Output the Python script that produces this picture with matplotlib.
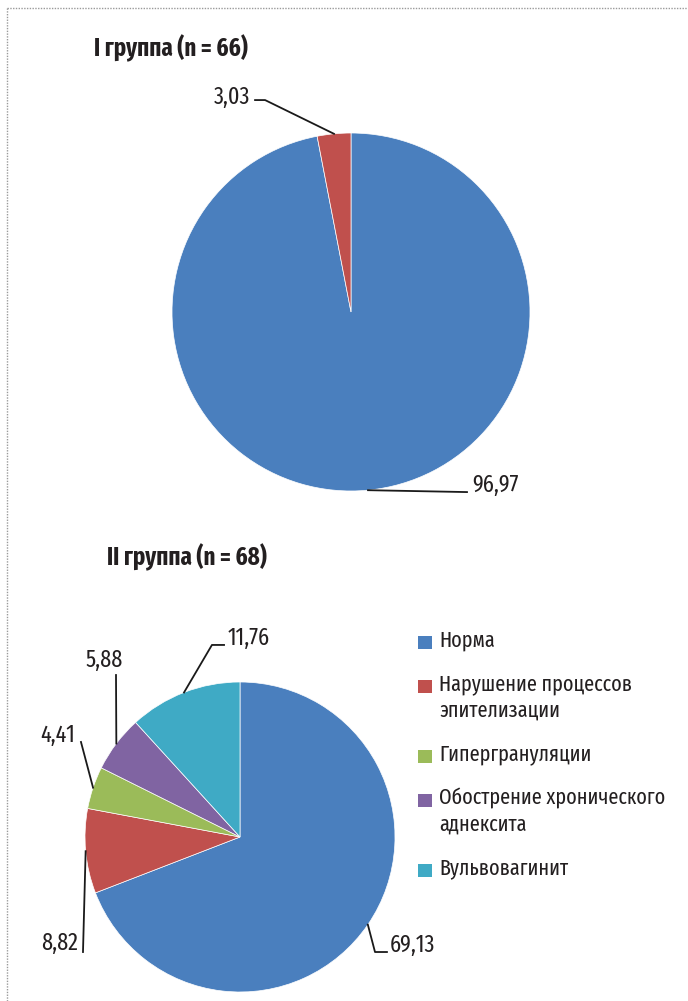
import numpy as np
import matplotlib
matplotlib.use("Agg")
import matplotlib.pyplot as plt
from matplotlib import font_manager
from matplotlib.ft2font import FT2Font
from matplotlib.lines import Line2D
from matplotlib.patches import Rectangle

# Data
categories = ["Норма", "Нарушение процессов\nэпителизации", "Гипергрануляции",
              "Обострение хронического\nаднексита", "Вульвовагинит"]
colors = ["#4A7FBE", "#C0504D", "#9BBB59", "#8064A2", "#3FAAC5"]

group1_title = "I группа (n = 66)"
group1_values = [96.97, 3.03]
group1_labels = ["96,97", "3,03"]

group2_title = "II группа (n = 68)"
group2_values = [69.13, 8.82, 4.41, 5.88, 11.76]
group2_labels = ["69,13", "8,82", "4,41", "5,88", "11,76"]


def has_cyrillic(path):
    try:
        return ord("ш") in FT2Font(path).get_charmap()
    except Exception:
        return False


W, H = 688, 1001
fig = plt.figure(figsize=(W / 100, H / 100), dpi=100)
renderer = fig.canvas.get_renderer()

# pick the sans face whose width is closest to the original condensed type
cands = {("Liberation Sans", "normal")}
for f in font_manager.fontManager.ttflist:
    narrowish = ("Narrow" in f.name or "Condensed" in f.name or
                 f.stretch not in ("normal", 500, "medium"))
    if narrowish and "Mono" not in f.name and "Serif" not in f.name and has_cyrillic(f.fname):
        cands.add((f.name, f.stretch))

target = 193.0  # px width of "Нарушение процессов" in the original
best = None
for fam, st in cands:
    t = fig.text(0, 0, "Нарушение процессов", fontsize=16, family=fam, fontstretch=st)
    w = t.get_window_extent(renderer).width
    t.remove()
    if best is None or abs(w - target) < abs(best[2] - target):
        best = (fam, st, w)
family, stretch, wbest = best
scale = min(1.08, max(0.85, target / wbest))
plt.rcParams["font.family"] = [family, "DejaVu Sans"]
plt.rcParams["font.stretch"] = stretch

# dotted frame (left and top)
fig.add_artist(Line2D([7 / W, 7 / W], [0, 1 - 8 / H], color="#9a9a9a", lw=1, ls=(0, (1, 1))))
fig.add_artist(Line2D([7 / W, 1], [1 - 8 / H, 1 - 8 / H], color="#9a9a9a", lw=1, ls=(0, (1, 1))))


def pie_axes(cx, cy, r, half=1.6):
    size = 2 * half * r
    ax = fig.add_axes([(cx - half * r) / W, (H - cy - half * r) / H, size / W, size / H])
    return ax, half


def draw_pie(ax, half, values, labels, cols, layout):
    wedges, _ = ax.pie(values, colors=cols, startangle=90, counterclock=False, radius=1,
                       wedgeprops=dict(edgecolor="white", linewidth=0.5))
    ax.set_xlim(-half, half)
    ax.set_ylim(-half, half)
    ax.axis("off")
    for w, lab, (pts, tx, ty, ha) in zip(wedges, labels, layout):
        mid = np.deg2rad((w.theta1 + w.theta2) / 2)
        xs = [np.cos(mid)] + [p[0] for p in pts]
        ys = [np.sin(mid)] + [p[1] for p in pts]
        ax.plot(xs, ys, color="#1a1a1a", lw=1.3, clip_on=False)
        ax.text(tx, ty, lab, ha=ha, va="center", fontsize=17.6 * scale, color="#231f20",
                fontstretch=stretch)


# Pie 1
ax1, h1 = pie_axes(351, 312, 179)
layout1 = [
    ([(0.648, -1.006)], 0.676, -0.966, "left"),
    ([(-0.480, 1.184), (-0.536, 1.184)], -0.564, 1.201, "right"),
]
draw_pie(ax1, h1, group1_values, group1_labels, [colors[0], colors[1]], layout1)

# Pie 2
ax2, h2 = pie_axes(240, 837, 155)
layout2 = [
    ([(0.871, -0.742), (0.948, -0.742)], 0.968, -0.697, "left"),
    ([(-1.013, -0.742)], -1.045, -0.684, "right"),
    ([(-1.026, 0.613)], -1.065, 0.658, "right"),
    ([(-0.8, 1.045)], -0.877, 1.142, "center"),
    ([(-0.181, 1.239), (-0.103, 1.239)], -0.077, 1.284, "left"),
]
draw_pie(ax2, h2, group2_values, group2_labels, colors, layout2)

# Titles
for title, x, y in [(group1_title, 94, 48), (group2_title, 107, 557)]:
    fig.text(x / W, 1 - y / H, title, fontsize=18.2 * scale, fontweight="bold", color="#231f20",
             ha="left", va="center", fontstretch=stretch)

# Legend
y = 642
for name, c in zip(categories, colors):
    fig.add_artist(Rectangle((418 / W, 1 - (y + 7) / H), 14 / W, 13 / H,
                             transform=fig.transFigure, facecolor=c, edgecolor="none"))
    fig.text(439 / W, 1 - (y - 12) / H, name, fontsize=16 * scale, color="#231f20",
             ha="left", va="top", linespacing=1.25, fontstretch=stretch)
    y += 26 * (name.count("\n") + 1) + 18

fig.savefig("out.png", dpi=100)
